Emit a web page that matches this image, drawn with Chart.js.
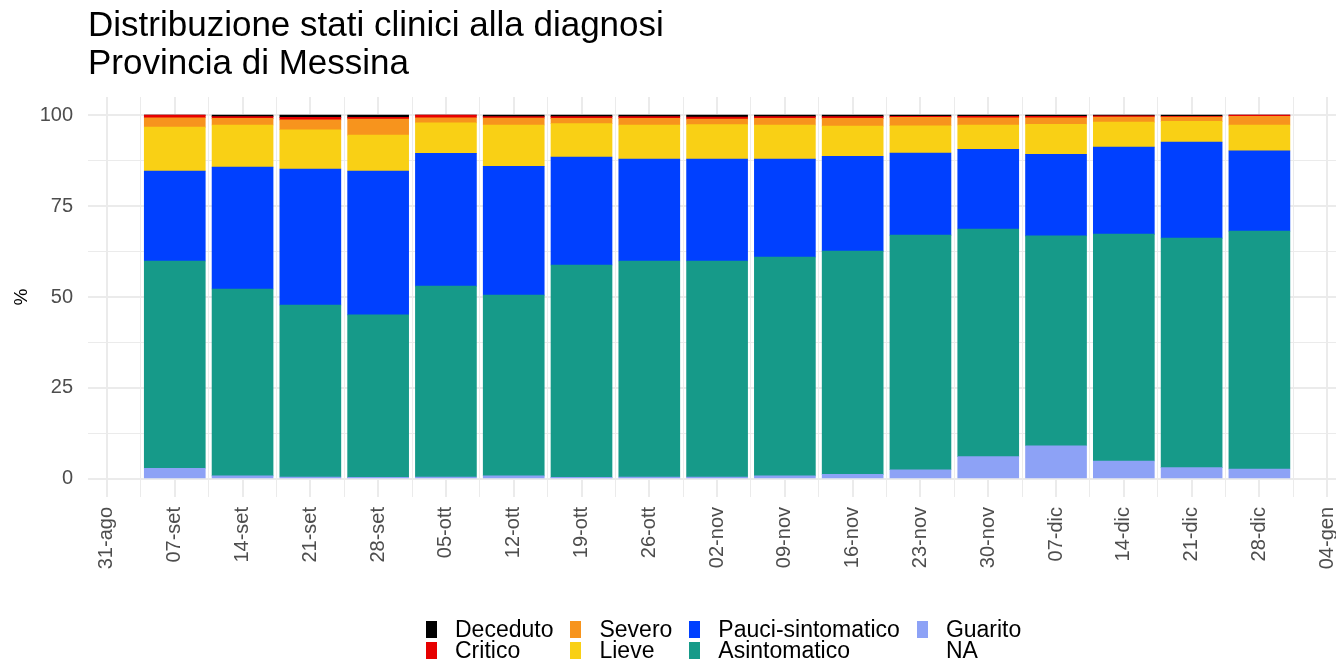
<!DOCTYPE html>
<html lang="it">
<head>
<meta charset="utf-8">
<title>Distribuzione stati clinici alla diagnosi</title>
<script src="https://cdn.jsdelivr.net/npm/chart.js@4.4.0/dist/chart.umd.min.js"></script>
<style>
  body { margin: 0; background: #fff; overflow: hidden; font-family: "Liberation Sans", Arial, sans-serif; }
  #wrap { position: relative; width: 1336px; height: 663px; }
  #titolo { position: absolute; left: 88px; top: 5px; font-size: 35px; line-height: 38px; color: #000; }
  #legenda { position: absolute; left: 426px; top: 619px; display: grid; grid-template-rows: 21px 21px;
             grid-auto-flow: column; column-gap: 17px; font-size: 23px; color: #000; }
  .voce { display: flex; align-items: center; line-height: 21px; height: 21px; }
  .box { width: 11px; height: 17px; margin-right: 18px; }
</style>
</head>
<body>
<div id="wrap">
  <canvas id="grafico"></canvas>
  <div id="titolo">Distribuzione stati clinici alla diagnosi<br>Provincia di Messina</div>
  <div id="legenda"></div>
</div>
<script>
// etichette dell'asse x (settimane)
const tickLabels = ['31-ago', '07-set', '14-set', '21-set', '28-set', '05-ott', '12-ott', '19-ott', '26-ott',
  '02-nov', '09-nov', '16-nov', '23-nov', '30-nov', '07-dic', '14-dic', '21-dic', '28-dic', '04-gen'];
const weeks = ['07-set', '14-set', '21-set', '28-set', '05-ott', '12-ott', '19-ott', '26-ott',
  '02-nov', '09-nov', '16-nov', '23-nov', '30-nov', '07-dic', '14-dic', '21-dic', '28-dic'];
const yTicks = [0, 25, 50, 75, 100];

// percentuali per stato clinico (dal basso verso l'alto)
const guarito      = [2.9, 0.8, 0.5, 0.4, 0.5, 0.8, 0.4, 0.5, 0.5, 0.8, 1.2, 2.5, 6.1, 9.1, 4.9, 3.1, 2.7];
const asintomatico = [57.0, 51.4, 47.3, 44.7, 52.5, 49.7, 58.4, 59.4, 59.4, 60.2, 61.4, 64.5, 62.6, 57.7, 62.4, 63.1, 65.4];
const pauci        = [24.7, 33.5, 37.4, 39.5, 36.5, 35.4, 29.7, 28.0, 28.0, 26.9, 26.1, 22.6, 21.9, 22.4, 23.9, 26.4, 22.1];
const lieve        = [12.1, 11.6, 10.8, 9.9, 8.4, 11.4, 9.2, 9.4, 9.5, 9.4, 8.3, 7.5, 6.7, 8.3, 6.9, 5.7, 7.1];
const severo       = [2.6, 1.8, 2.7, 4.4, 1.4, 1.9, 1.4, 1.8, 1.5, 1.8, 2.1, 2.3, 2.0, 1.8, 1.4, 1.2, 2.4];
const critico      = [0.7, 0.5, 0.7, 0.5, 0.7, 0.4, 0.5, 0.5, 0.6, 0.5, 0.5, 0.3, 0.4, 0.4, 0.3, 0.2, 0.3];
const deceduto     = [0.0, 0.4, 0.6, 0.6, 0.0, 0.4, 0.4, 0.4, 0.5, 0.4, 0.4, 0.3, 0.3, 0.3, 0.2, 0.3, 0.0];

const serie = [
  { label: 'Guarito', data: guarito, color: '#8DA2F6' },
  { label: 'Asintomatico', data: asintomatico, color: '#169A89' },
  { label: 'Pauci-sintomatico', data: pauci, color: '#0040FF' },
  { label: 'Lieve', data: lieve, color: '#F9D015' },
  { label: 'Severo', data: severo, color: '#F7941D' },
  { label: 'Critico', data: critico, color: '#E60000' },
  { label: 'Deceduto', data: deceduto, color: '#000000' }
];
const ordineLegenda = ['Deceduto', 'Critico', 'Severo', 'Lieve', 'Pauci-sintomatico', 'Asintomatico', 'Guarito', 'NA'];

const grigio = '#EBEBEB';
const testoAssi = '#4D4D4D';
const font = 'Liberation Sans, Arial, sans-serif';

const datasets = serie.map(s => ({
  label: s.label,
  data: weeks.map((w, i) => ({ x: tickLabels.indexOf(w), y: s.data[i] })),
  backgroundColor: s.color,
  borderWidth: 0,
  barThickness: 61
}));

const ctx = document.getElementById('grafico').getContext('2d');
const chart = new Chart(ctx, {
  type: 'bar',
  data: { datasets: datasets },
  options: {
    responsive: true,
    maintainAspectRatio: false,
    animation: false,
    layout: { padding: { top: 97, bottom: 76, left: 0, right: 0 } },
    plugins: {
      legend: { display: false },
      tooltip: { enabled: false }
    },
    scales: {
      x: {
        type: 'linear',
        stacked: true,
        offset: false,
        min: -0.28,
        max: 18.13,
        border: { display: false },
        afterBuildTicks: (scale) => {
          const t = [];
          for (let i = 0; i < tickLabels.length * 2 - 1; i++) t.push({ value: i / 2 });
          scale.ticks = t;
        },
        afterFit: (scale) => {
          scale.height = 90;
          // il pannello arriva fino al bordo destro
          scale.paddingLeft = 0;
          scale.paddingRight = 0;
        },
        grid: {
          offset: false,
          drawTicks: false,
          color: grigio,
          lineWidth: (c) => (c.tick && Number.isInteger(c.tick.value)) ? 2 : 1
        },
        ticks: {
          autoSkip: false,
          minRotation: 90,
          maxRotation: 90,
          padding: 10,
          color: testoAssi,
          font: { family: font, size: 20 },
          callback: (v) => Number.isInteger(v) ? tickLabels[v] : ''
        }
      },
      y: {
        stacked: true,
        min: -5,
        max: 105,
        border: { display: false },
        afterBuildTicks: (scale) => {
          const t = [];
          for (let i = 0; i < yTicks.length * 2 - 1; i++) t.push({ value: i * 12.5 });
          scale.ticks = t;
        },
        afterFit: (scale) => { scale.width = 88; },
        grid: {
          drawTicks: false,
          color: grigio,
          lineWidth: (c) => (c.tick && yTicks.includes(c.tick.value)) ? 2 : 1
        },
        ticks: {
          padding: 15,
          color: testoAssi,
          font: { family: font, size: 20 },
          callback: (v) => yTicks.includes(v) ? String(v) : ''
        },
        title: {
          display: true,
          text: '%',
          color: '#000',
          padding: { top: 10, bottom: 0 },
          font: { family: font, size: 19 }
        }
      }
    }
  }
});

// legenda su due righe, per colonne
const legenda = document.getElementById('legenda');
ordineLegenda.forEach(nome => {
  const s = serie.find(d => d.label === nome);
  const voce = document.createElement('div');
  voce.className = 'voce';
  const box = document.createElement('span');
  box.className = 'box';
  box.style.background = s ? s.color : 'transparent';
  const txt = document.createElement('span');
  txt.textContent = nome;
  voce.appendChild(box);
  voce.appendChild(txt);
  legenda.appendChild(voce);
});
</script>
</body>
</html>
